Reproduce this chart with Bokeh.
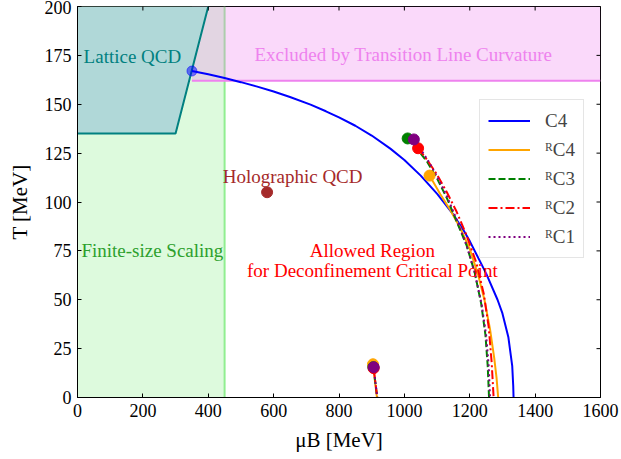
import math
from bokeh.plotting import figure
from bokeh.models import Range1d, FixedTicker, Label, Legend
from bokeh.embed import file_html
from bokeh.resources import INLINE

# ---------------- data ----------------
x_ticks = [0, 200, 400, 600, 800, 1000, 1200, 1400, 1600]
y_ticks = [0, 25, 50, 75, 100, 125, 150, 175, 200]

lattice_mu = [0, 300, 400, 0]
lattice_T = [135, 135, 200, 200]
finite_mu_max = 450
excluded_mu_min = 350
excluded_T_min = 162

mu_C4 = [350, 400, 450, 500, 550, 600, 650, 713, 760, 800, 850, 900, 957, 1000, 1050,
         1101, 1150, 1181, 1200, 1250, 1285, 1300, 1318, 1330, 1333, 1334]
T_C4 = [167, 165.3, 163.4, 161.3, 159.0, 156.5, 153.7, 149.8, 146.4, 143.3, 139.0, 134.0, 127.3,
        121.5, 113.5, 104.0, 93.5, 85.5, 80.0, 63.5, 50.0, 43.0, 31.0, 16.0, 6.0, 0]

mu_RC4 = [1077, 1110, 1140, 1170, 1200, 1225, 1245, 1262, 1275, 1282, 1287]
T_RC4 = [113.5, 104, 96, 87, 76, 63, 50, 35, 20, 10, 0]

mu_RC3 = [1010, 1040, 1070, 1100, 1130, 1160, 1190, 1215, 1235, 1248, 1255, 1259]
T_RC3 = [132.5, 127, 120.5, 112, 102, 90, 78, 64, 48, 32, 16, 0]

mu_RC2 = [1042, 1070, 1100, 1130, 1160, 1190, 1220, 1243, 1258, 1267, 1273]
T_RC2 = [127.5, 121.5, 114, 105, 95, 83, 69, 53, 36, 18, 0]

mu_RC1 = [1029, 1050, 1075, 1100, 1130, 1160, 1190, 1215, 1236, 1250, 1258, 1262]
T_RC1 = [132, 127, 120.5, 113, 103, 91, 78, 64, 48, 32, 16, 0]

# lower branch
low_mu_RC4 = [904, 916]
low_T_RC4 = [17, 0]
low_mu_RC3 = [905, 917]
low_T_RC3 = [15.5, 0]
low_mu_RC2 = [906, 917]
low_T_RC2 = [15, 0]
low_mu_RC1 = [906, 917]
low_T_RC1 = [15.5, 0]

holo_mu = [580]
holo_T = [105]

FONT = "Liberation Serif"
X_MAX = 1600
Y_MAX = 200

p = figure(frame_width=523, frame_height=391, width=621, height=459,
           x_range=Range1d(0, X_MAX), y_range=Range1d(0, Y_MAX),
           output_backend="svg", toolbar_location=None,
           min_border_left=77, min_border_right=21, min_border_top=6, min_border_bottom=62)
p.grid.visible = False
p.outline_line_color = "black"
p.outline_line_width = 1
p.background_fill_color = "white"
p.border_fill_color = "white"

for ax in [p.xaxis[0], p.yaxis[0]]:
    ax.major_tick_in = 4
    ax.major_tick_out = 0
    ax.minor_tick_line_color = None
    ax.major_label_text_font = FONT
    ax.major_label_text_font_size = "18px"
    ax.major_label_text_color = "black"
    ax.axis_line_color = "black"
    ax.axis_label_text_font = FONT
    ax.axis_label_text_font_size = "21px"
    ax.axis_label_text_font_style = "normal"
    ax.axis_label_text_color = "black"
p.xaxis[0].ticker = FixedTicker(ticks=x_ticks)
p.yaxis[0].ticker = FixedTicker(ticks=y_ticks)
p.xaxis[0].major_label_standoff = 6
p.yaxis[0].major_label_standoff = 6
p.xaxis[0].axis_label = "μB [MeV]"
p.yaxis[0].axis_label = "T [MeV]"
p.xaxis[0].axis_label_standoff = 8
p.yaxis[0].axis_label_standoff = 10

# ---------------- regions ----------------
p.quad(left=[0], right=[finite_mu_max], bottom=[0], top=[Y_MAX],
       fill_color="#90ee90", fill_alpha=0.3, line_color=None)
p.segment(x0=[finite_mu_max], y0=[0], x1=[finite_mu_max], y1=[Y_MAX],
          line_color="#90ee90", line_width=2)
p.quad(left=[excluded_mu_min], right=[X_MAX], bottom=[excluded_T_min], top=[Y_MAX],
       fill_color="#ee82ee", fill_alpha=0.3, line_color=None)
p.patch(lattice_mu, lattice_T, fill_color="#b0d8d8", fill_alpha=1.0, line_color=None)
p.segment(x0=[excluded_mu_min], y0=[excluded_T_min], x1=[X_MAX], y1=[excluded_T_min],
          line_color="#ee82ee", line_width=2)
p.line(lattice_mu[:3], lattice_T[:3], line_color="#008080", line_width=2)

# ---------------- curves ----------------
r_c4 = p.line(mu_C4, T_C4, line_color="blue", line_width=2)
r_rc4 = p.line(mu_RC4, T_RC4, line_color="orange", line_width=2)
r_rc3 = p.line(mu_RC3, T_RC3, line_color="green", line_width=2, line_dash="7 3")
r_rc2 = p.line(mu_RC2, T_RC2, line_color="red", line_width=2, line_dash="9 3 2 3")
r_rc1 = p.line(mu_RC1, T_RC1, line_color="purple", line_width=2, line_dash="2 3")

p.line(low_mu_RC4, low_T_RC4, line_color="orange", line_width=2)
p.line(low_mu_RC3, low_T_RC3, line_color="green", line_width=2, line_dash="7 3")
p.line(low_mu_RC2, low_T_RC2, line_color="red", line_width=2, line_dash="9 3 2 3")
p.line(low_mu_RC1, low_T_RC1, line_color="purple", line_width=2, line_dash="2 3")

# end points
p.scatter([mu_C4[0]], [T_C4[0]], size=10, color="blue", alpha=0.5)
p.scatter([low_mu_RC4[0]], [low_T_RC4[0]], size=11, color="orange")
p.scatter([low_mu_RC3[0]], [low_T_RC3[0]], size=11, color="green")
p.scatter([low_mu_RC2[0]], [low_T_RC2[0]], size=11, color="red")
p.scatter([low_mu_RC1[0]], [low_T_RC1[0]], size=11, color="purple")
p.scatter([mu_RC4[0]], [T_RC4[0]], size=11, color="orange")
p.scatter([mu_RC3[0]], [T_RC3[0]], size=11, color="green")
p.scatter([mu_RC2[0]], [T_RC2[0]], size=11, color="red")
p.scatter([mu_RC1[0]], [T_RC1[0]], size=11, color="purple")
p.scatter(holo_mu, holo_T, size=11, color="brown")

# mirrored inward ticks on the top and right edges (half of each dash is clipped by the frame)
p.scatter(x_ticks, [Y_MAX] * len(x_ticks), marker="dash", size=8, angle=math.pi / 2,
          line_color="black", line_width=1)
p.scatter([X_MAX] * len(y_ticks), y_ticks, marker="dash", size=8,
          line_color="black", line_width=1)

# ---------------- texts ----------------
def add_text(x, y, txt, color, size="19px", style="normal", align="center"):
    p.add_layout(Label(x=x, y=y, text=txt, text_color=color, text_font=FONT,
                       text_font_size=size, text_font_style=style,
                       text_align=align, text_baseline="middle"))

add_text(168, 174.4, "Lattice QCD", "#008080")
add_text(997, 175.4, "Excluded by Transition Line Curvature", "#ee82ee")
add_text(229, 75.2, "Finite-size Scaling", "#2ca02c")
add_text(902, 75.2, "Allowed Region", "red")
add_text(902, 65, "for Deconfinement Critical Point", "red")
add_text(658, 113, "Holographic QCD", "brown")

# legend
legend = Legend(items=[("C4", [r_c4]), ("ᴿC4", [r_rc4]), ("ᴿC3", [r_rc3]),
                       ("ᴿC2", [r_rc2]), ("ᴿC1", [r_rc1])],
                location=(402, 139), label_text_font=FONT, label_text_font_size="19px",
                glyph_width=42, glyph_height=25, label_height=25, spacing=4, padding=8,
                label_standoff=15, border_line_color="#cccccc", border_line_width=1,
                background_fill_alpha=0.8, margin=0)
p.add_layout(legend, "center")

open("out.html", "w").write(file_html(p, INLINE))
